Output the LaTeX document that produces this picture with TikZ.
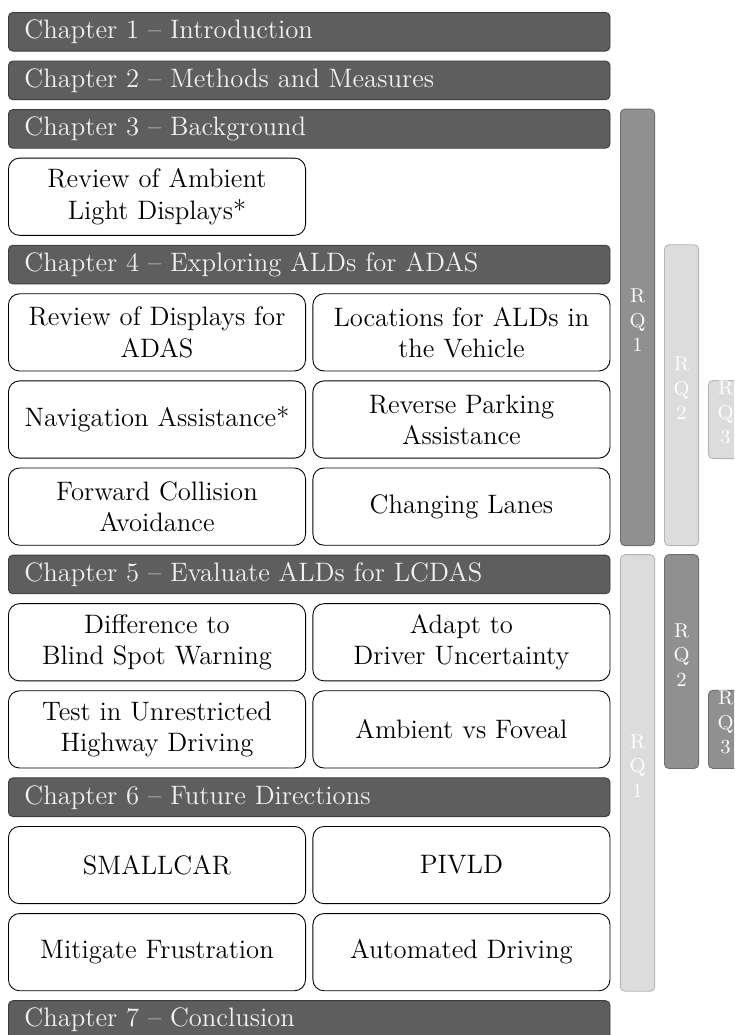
\documentclass[tikz,border=0pt]{standalone}
\usepackage{tikz}
\usetikzlibrary{positioning, fit}
\definecolor{chapfill}{HTML}{5E5E5E}
\definecolor{chapline}{HTML}{3C3C3C}
\definecolor{chaptext}{HTML}{F2F2F2}
\definecolor{rqdark}{HTML}{909090}
\definecolor{rqdarkline}{HTML}{6E6E6E}
\definecolor{rqlight}{HTML}{DCDCDC}
\definecolor{rqlightline}{HTML}{B4B4B4}

\begin{document}
\begin{tikzpicture}[
    node distance=4.05pt,
    chapter/.style={draw=chapline, fill=chapfill, text=chaptext, rounded corners=2pt,
      font=\large, align=left, text width=256.3pt, inner xsep=7.2pt, inner ysep=2pt,
      minimum height=17.4pt},
    topic/.style={draw=black, rounded corners=5pt, font=\large, align=center,
      text width=127.7pt, inner xsep=3pt, minimum height=34.75pt},
    rq/.style={rounded corners=2pt, text=white, font=\small, align=center, inner sep=0pt},
    rqon/.style={rq, fill=rqdark, draw=rqdarkline},
    rqoff/.style={rq, fill=rqlight, draw=rqlightline}
  ]
  \useasboundingbox (-3.6pt,5.4pt) rectangle (326.7pt,-460.35pt);
  \clip (-3.6pt,5.4pt) rectangle (326.7pt,-460.35pt);

  % chapters and their studies
  \node[chapter, anchor=north west] (ch1) at (0,0) {Chapter 1 -- Introduction};
  \node[chapter, below=of ch1] (ch2) {Chapter 2 -- Methods and Measures};
  \node[chapter, below=of ch2] (ch3) {Chapter 3 -- Background};
  \node[topic, below=of ch3.south west, anchor=north west] (ambient) {Review of Ambient\\Light Displays*};

  \node[chapter, below=of ambient.south west, anchor=north west] (ch4) {Chapter 4 -- Exploring ALDs for ADAS};
  \node[topic, below=of ch4.south west, anchor=north west] (displays) {Review of Displays for\\ADAS};
  \node[topic, right=2.9pt of displays] (locations) {Locations for ALDs in\\the Vehicle};
  \node[topic, below=of displays] (navigation) {Navigation Assistance*};
  \node[topic, right=2.9pt of navigation] (parking) {Reverse Parking\\Assistance};
  \node[topic, below=of navigation] (collision) {Forward Collision\\Avoidance};
  \node[topic, right=2.9pt of collision] (lanes) {Changing Lanes};

  \node[chapter, below=of collision.south west, anchor=north west] (ch5) {Chapter 5 -- Evaluate ALDs for LCDAS};
  \node[topic, below=of ch5.south west, anchor=north west] (blindspot) {Difference to\\Blind Spot Warning};
  \node[topic, right=2.9pt of blindspot] (uncertainty) {Adapt to\\Driver Uncertainty};
  \node[topic, below=of blindspot] (highway) {Test in Unrestricted\\Highway Driving};
  \node[topic, right=2.9pt of highway] (foveal) {Ambient vs Foveal};

  \node[chapter, below=of highway.south west, anchor=north west] (ch6) {Chapter 6 -- Future Directions};
  \node[topic, below=of ch6.south west, anchor=north west] (smallcar) {SMALLCAR};
  \node[topic, right=2.9pt of smallcar] (pivld) {PIVLD};
  \node[topic, below=of smallcar] (frustration) {Mitigate Frustration};
  \node[topic, right=2.9pt of frustration] (automated) {Automated Driving};

  \node[chapter, below=of frustration.south west, anchor=north west] (ch7) {Chapter 7 -- Conclusion};

  % research question bars
  \coordinate[right=4.5pt of ch1.east] (c1l);
  \coordinate[right=19.9pt of ch1.east] (c1r);
  \coordinate[right=24.3pt of ch1.east] (c2l);
  \coordinate[right=39.7pt of ch1.east] (c2r);
  \coordinate[right=44.1pt of ch1.east] (c3l);
  \coordinate[right=59.5pt of ch1.east] (c3r);

  \node[rqon, fit={(ch3.north -| c1l) (lanes.south -| c1r)}] (rq1a) {R\\Q\\1};
  \node[rqoff, fit={(ch4.north -| c2l) (lanes.south -| c2r)}] (rq2a) {R\\Q\\2};
  \node[rqoff, fit={(parking.north -| c3l) (parking.south -| c3r)}] (rq3a) {R\\Q\\3};

  \node[rqoff, fit={(ch5.north -| c1l) (automated.south -| c1r)}] (rq1b) {R\\Q\\1};
  \node[rqon, fit={(ch5.north -| c2l) (foveal.south -| c2r)}] (rq2b) {R\\Q\\2};
  \node[rqon, fit={(foveal.north -| c3l) (foveal.south -| c3r)}] (rq3b) {R\\Q\\3};
\end{tikzpicture}
\end{document}
